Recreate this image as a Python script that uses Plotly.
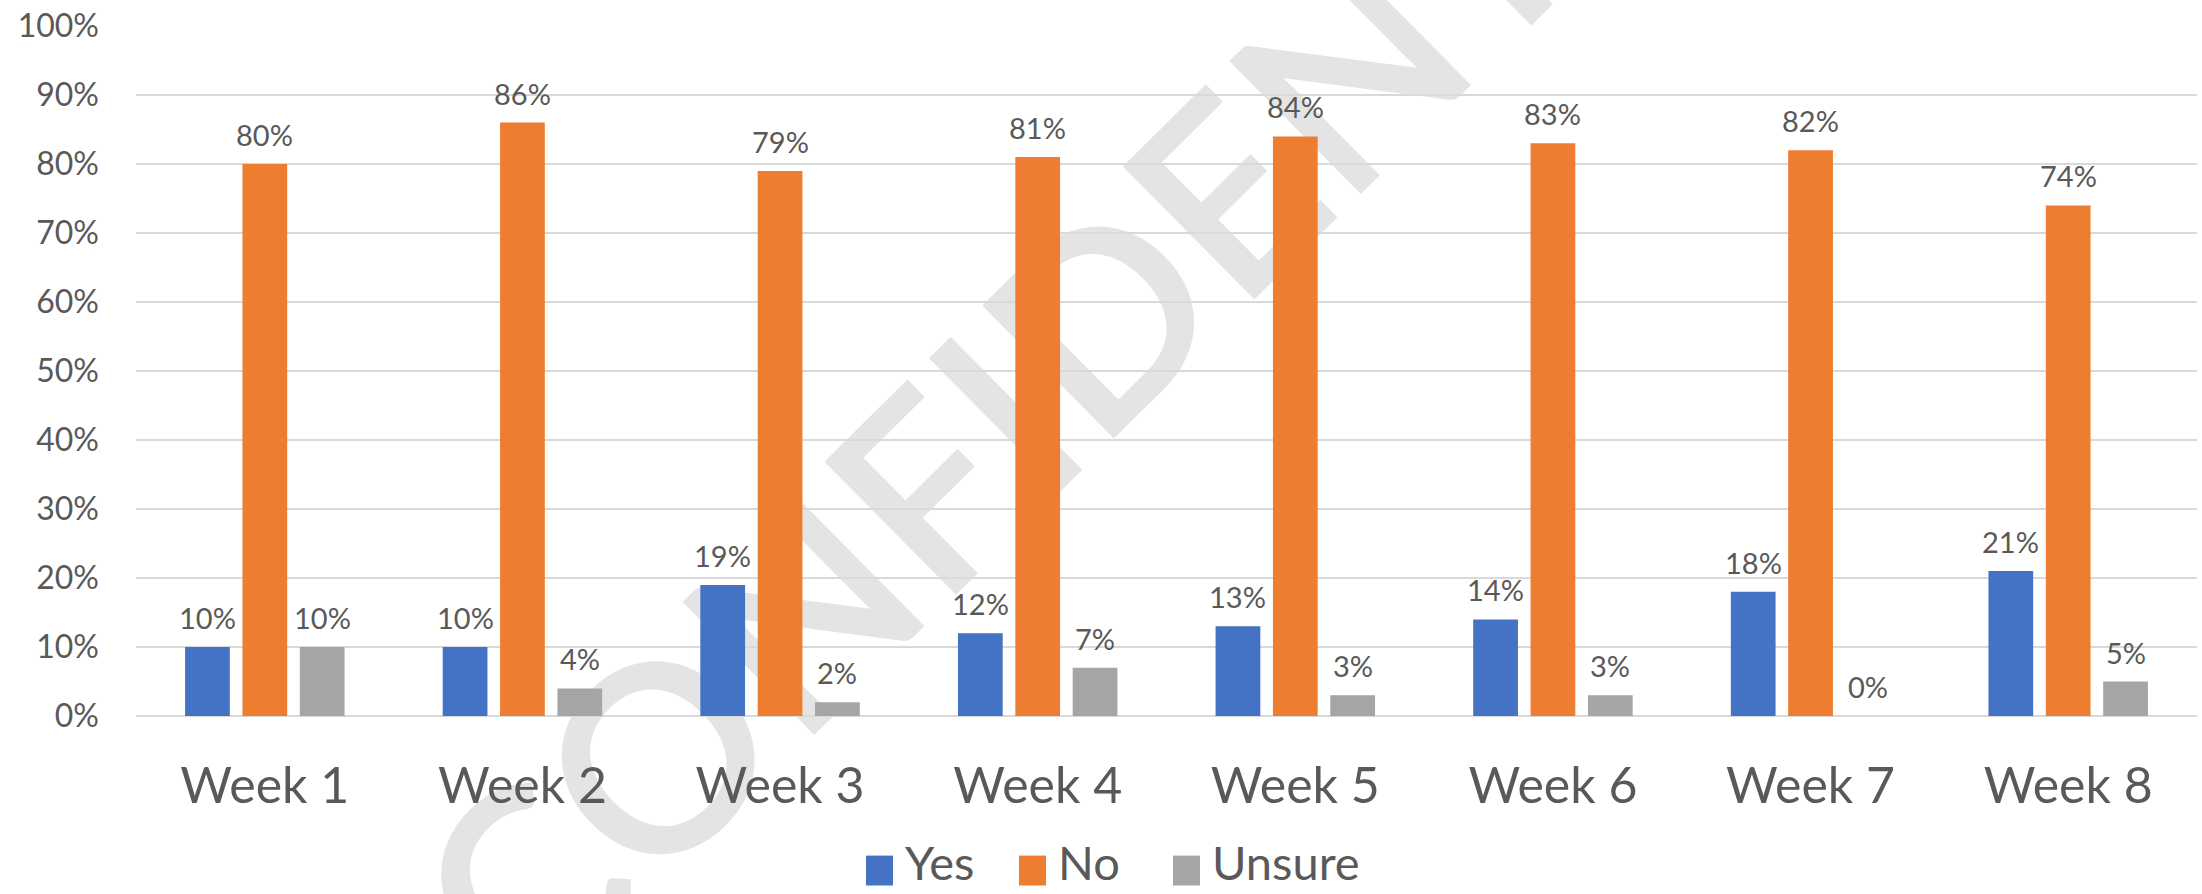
import plotly.graph_objects as go

# ---- data ----
weeks = ["Week 1", "Week 2", "Week 3", "Week 4", "Week 5", "Week 6", "Week 7", "Week 8"]
yes = [10, 10, 19, 12, 13, 14, 18, 21]
no = [80, 86, 79, 81, 84, 83, 82, 74]
unsure = [10, 4, 2, 7, 3, 3, 0, 5]
series_names = ["Yes", "No", "Unsure"]
y_tick_values = [0, 10, 20, 30, 40, 50, 60, 70, 80, 90, 100]
watermark = "CONFIDENTIAL"

# ---- layout constants ----
W, H = 2202, 894
M = dict(l=136, r=5, t=24, b=178)
PW = W - M["l"] - M["r"]
PH = H - M["t"] - M["b"]
BARGAP = 0.332
BARGROUPGAP = 0.22
FONT = "Lato"
TEXT = "#595959"
GRID = "#D9D9D9"
COLORS = {"Yes": "#4472C4", "No": "#ED7D31", "Unsure": "#A5A5A5"}


def px_x(px):
    return (px - M["l"]) / PW


def px_y(py):
    return (H - M["b"] - py) / PH


fig = go.Figure()
all_series = [yes, no, unsure]
for name, vals in zip(series_names, all_series):
    fig.add_trace(go.Bar(
        x=weeks, y=[v / 100 for v in vals], name=name,
        marker=dict(color=COLORS[name], line=dict(width=0)),
        showlegend=False, hoverinfo="skip",
    ))

# data labels above each bar
slot = PW / len(weeks) * (1 - BARGAP) / len(series_names)
for i, vals in enumerate(all_series):
    shift = (i - 1) * slot
    for w, v in zip(weeks, vals):
        fig.add_annotation(
            x=w, y=v / 100, text=f"{v}%", xshift=shift, yshift=10,
            yanchor="bottom", xanchor="center", showarrow=False,
            font=dict(family=FONT, size=29, color=TEXT),
        )

# manual legend
legend_items = [(866, 903), (1019, 1056), (1173, 1210)]
ly = 871
for name, (sx, tx) in zip(series_names, legend_items):
    fig.add_shape(type="rect", xref="paper", yref="paper",
                  x0=px_x(sx), x1=px_x(sx + 27), y0=px_y(ly + 15), y1=px_y(ly - 15),
                  fillcolor=COLORS[name], line=dict(width=0))
    fig.add_annotation(xref="paper", yref="paper", x=px_x(tx), y=px_y(893),
                       text=name, showarrow=False, xanchor="left", yanchor="bottom",
                       font=dict(family=FONT, size=47, color=TEXT))

# watermark
cx, cy = px_x(1128), px_y(277)
fig.add_shape(type="rect", xref="paper", yref="paper",
              x0=cx - 0.001, x1=cx + 0.001, y0=cy - 0.001, y1=cy + 0.001,
              line=dict(width=0), fillcolor="rgba(0,0,0,0)", layer="below",
              label=dict(text=watermark, textangle=-44.7, textposition="middle center",
                         font=dict(family=FONT, size=260, color="#E4E4E4", weight=600)))

fig.update_layout(
    width=W, height=H, margin=M,
    paper_bgcolor="white", plot_bgcolor="rgba(0,0,0,0)",
    barmode="group", bargap=BARGAP, bargroupgap=BARGROUPGAP,
    font=dict(family=FONT, color=TEXT),
    showlegend=False,
)
fig.update_yaxes(
    range=[0, 1], tickvals=[v / 100 for v in y_tick_values],
    ticktext=[f"{v}%" for v in y_tick_values],
    showgrid=True, gridcolor=GRID, gridwidth=2,
    zeroline=True, zerolinecolor=GRID, zerolinewidth=2,
    showline=False, ticks="", ticklabelstandoff=36,
    tickfont=dict(family=FONT, size=32, color=TEXT), fixedrange=True,
)
fig.update_xaxes(
    showgrid=False, zeroline=False, showline=False, ticks="",
    ticklabelstandoff=36, tickfont=dict(family=FONT, size=50, color=TEXT),
    fixedrange=True,
)

fig.write_html("out.html", config={"displayModeBar": False},
               post_script="document.body.style.margin='0';document.body.style.overflow='hidden';")
